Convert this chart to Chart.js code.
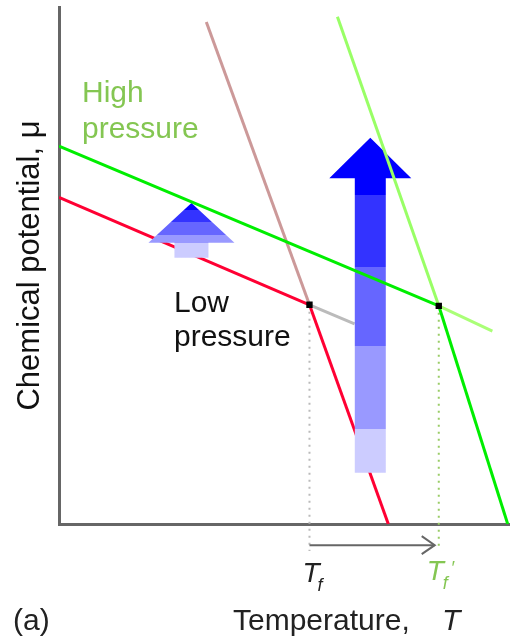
<!DOCTYPE html>
<html>
<head>
<meta charset="utf-8">
<script src="https://cdn.jsdelivr.net/npm/chart.js@4.4.1/dist/chart.umd.min.js"></script>
<style>
  body { margin: 0; background: #fff; }
  #wrap { width: 514px; height: 638px; position: relative; }
</style>
</head>
<body>
<div id="wrap"><canvas id="muChart"></canvas></div>
<script>
// melting points (temperature, chemical potential) - arbitrary units
const Tf = 5.56, muTf = 4.24;
const TfHigh = 8.43, muTfHigh = 4.22;

// low pressure lines
const lowLiquid = [[0, 6.32], [Tf, muTf]];
const lowLiquidMeta = [[Tf, muTf], [6.56, 3.87]];
const lowSolidAbove = [[3.27, 9.71], [Tf, muTf]];
const lowSolid = [[Tf, muTf], [7.31, 0]];

// high pressure lines
const highLiquid = [[0, 7.31], [TfHigh, muTfHigh]];
const highLiquidMeta = [[TfHigh, muTfHigh], [9.62, 3.73]];
const highSolidAbove = [[6.18, 9.81], [TfHigh, muTfHigh]];
const highSolid = [[TfHigh, muTfHigh], [9.96, 0]];

// dotted drops to the temperature axis and the shift arrow below it
const dropBottom = -0.52;
const shiftY = -0.41;
const shiftEnd = 8.34;

// blue "pressure raises mu" arrows: x, tail, head base, tip
const blueArrows = [
    { x: 2.94, from: 5.15, neck: 5.44, to: 6.21 },
    { x: 6.91, from: 0.99, neck: 6.69, to: 7.47 }
];

const pts = arr => arr.map(p => ({ x: p[0], y: p[1] }));

function line(label, data, color, extra) {
    return Object.assign({
        label: label,
        data: pts(data),
        showLine: true,
        borderColor: color,
        borderWidth: 3,
        pointRadius: 0,
        fill: false
    }, extra || {});
}

const FONT = '"Liberation Sans", Arial, sans-serif';
const GREEN_TEXT = '#84c652';

// draws blue arrows under the high-pressure lines, plus text and arrowhead
const decorPlugin = {
    id: 'decor',
    beforeDatasetDraw(chart, args) {
        if (chart.data.datasets[args.index].label !== 'high solid above') return;
        const ctx = chart.ctx;
        const xs = chart.scales.x, ys = chart.scales.y;
        const bands = ['#0000ff', '#3333ff', '#6666ff', '#9999ff', '#ccccff'];
        const cuts = [[0.13, 0.35, 0.58, 0.73], [0.17, 0.385, 0.62, 0.87]];
        const sizes = [[17, 43], [15.5, 41]];
        blueArrows.forEach((a, i) => {
            const cx = xs.getPixelForValue(a.x);
            const yTail = ys.getPixelForValue(a.from);
            const yNeck = ys.getPixelForValue(a.neck);
            const yTip = ys.getPixelForValue(a.to);
            const c = cuts[i];
            const [sw, hw] = sizes[i];
            const g = ctx.createLinearGradient(0, yTip, 0, yTail);
            let prev = 0;
            bands.forEach((col, k) => {
                const end = k < c.length ? c[k] : 1;
                g.addColorStop(prev, col);
                g.addColorStop(end, col);
                prev = end;
            });
            ctx.save();
            ctx.fillStyle = g;
            ctx.beginPath();
            ctx.moveTo(cx, yTip);
            ctx.lineTo(cx + hw, yNeck);
            ctx.lineTo(cx + sw, yNeck);
            ctx.lineTo(cx + sw, yTail);
            ctx.lineTo(cx - sw, yTail);
            ctx.lineTo(cx - sw, yNeck);
            ctx.lineTo(cx - hw, yNeck);
            ctx.closePath();
            ctx.fill();
            ctx.restore();
        });
    },
    afterDatasetsDraw(chart) {
        const ctx = chart.ctx;
        const xs = chart.scales.x, ys = chart.scales.y;
        ctx.save();

        // arrowhead on the melting point shift
        const ex = xs.getPixelForValue(shiftEnd), ey = ys.getPixelForValue(shiftY);
        ctx.strokeStyle = '#666';
        ctx.lineWidth = 2;
        ctx.beginPath();
        ctx.moveTo(ex - 13, ey - 9);
        ctx.lineTo(ex, ey);
        ctx.lineTo(ex - 13, ey + 9);
        ctx.stroke();

        ctx.textBaseline = 'alphabetic';
        ctx.textAlign = 'left';

        ctx.font = '30px ' + FONT;
        ctx.fillStyle = GREEN_TEXT;
        ctx.fillText('High', 82, 102);
        ctx.fillText('pressure', 82, 138);

        ctx.fillStyle = '#111';
        ctx.fillText('Low', 174, 312);
        ctx.fillText('pressure', 174, 346);

        // x axis title
        ctx.fillStyle = '#222';
        ctx.fillText('Temperature,', 233, 630);
        ctx.fillText('(a)', 13, 630);
        ctx.font = 'italic 30px ' + FONT;
        ctx.fillText('T', 442, 630);

        // T_f labels under the drop lines
        const px1 = xs.getPixelForValue(Tf), px2 = xs.getPixelForValue(TfHigh);
        ctx.font = 'italic 28px ' + FONT;
        ctx.fillText('T', px1 - 7, 582);
        ctx.font = 'italic 18px ' + FONT;
        ctx.fillText('f', px1 + 8, 591);

        ctx.fillStyle = GREEN_TEXT;
        ctx.font = 'italic 28px ' + FONT;
        ctx.fillText('T', px2 - 12, 580);
        ctx.font = 'italic 18px ' + FONT;
        ctx.fillText('f', px2 + 4, 589);
        ctx.fillText('\u2032', px2 + 12, 574);
        ctx.restore();
    }
};

window.onload = function () {
    const ctx = document.getElementById('muChart');
    new Chart(ctx, {
        type: 'scatter',
        data: {
            // first dataset is painted last (on top)
            datasets: [
                {
                    label: 'melting points',
                    data: pts([[Tf, muTf], [TfHigh, muTfHigh]]),
                    pointStyle: 'rect',
                    pointRadius: 4.5,
                    backgroundColor: '#000',
                    borderColor: '#000',
                    borderWidth: 0
                },
                line('high solid', highSolid, '#00ee00'),
                line('high liquid', highLiquid, '#00ee00'),
                line('high liquid meta', highLiquidMeta, '#aaff77'),
                line('high solid above', highSolidAbove, '#99ff66'),
                line('shift', [[Tf, shiftY], [shiftEnd, shiftY]], '#666', { borderWidth: 2, clip: false }),
                line('drop high', [[TfHigh, muTfHigh], [TfHigh, dropBottom + 0.06]], '#99cc66',
                    { borderWidth: 2, borderDash: [2, 5], clip: false }),
                line('drop low', [[Tf, muTf], [Tf, dropBottom]], '#bbbbbb',
                    { borderWidth: 2, borderDash: [2, 5], clip: false }),
                line('low solid', lowSolid, '#ff0033'),
                line('low liquid', lowLiquid, '#ff0033'),
                line('low solid above', lowSolidAbove, '#cc9999'),
                line('low liquid meta', lowLiquidMeta, '#bbbbbb')
            ]
        },
        options: {
            responsive: true,
            maintainAspectRatio: false,
            animation: false,
            layout: { padding: { top: 7, right: 2, left: 12, bottom: 0 } },
            plugins: {
                legend: { display: false },
                tooltip: { enabled: false }
            },
            scales: {
                x: {
                    type: 'linear',
                    min: 0,
                    max: 10,
                    grid: { display: false },
                    border: { color: '#666', width: 3 },
                    ticks: { display: false },
                    afterFit: s => { s.height = 114; }
                },
                y: {
                    type: 'linear',
                    min: 0,
                    max: 10,
                    grid: { display: false },
                    border: { color: '#666', width: 3 },
                    ticks: { display: false },
                    title: {
                        display: true,
                        text: 'Chemical potential, \u03bc',
                        color: '#111',
                        padding: 0,
                        font: { family: FONT, size: 31 }
                    },
                    afterFit: s => { s.width = 47; }
                }
            }
        },
        plugins: [decorPlugin]
    });
};
</script>
</body>
</html>
